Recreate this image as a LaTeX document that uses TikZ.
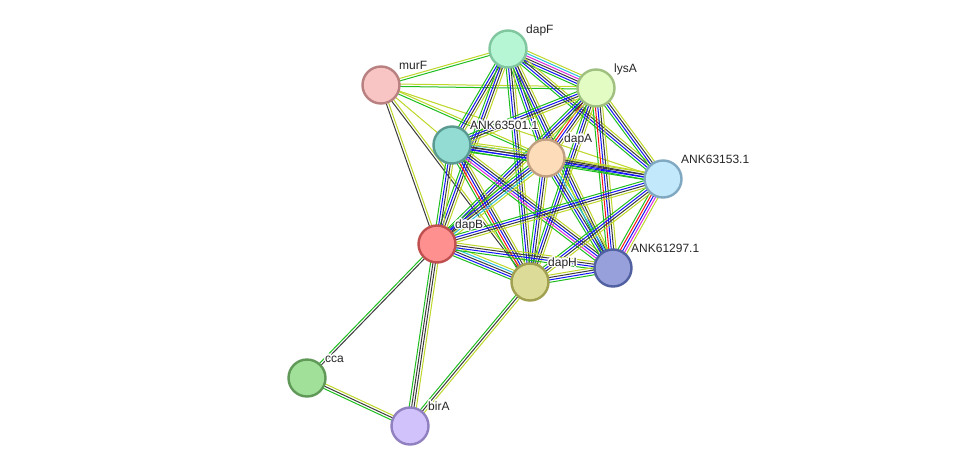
\documentclass[tikz,border=0pt]{standalone}
\usepackage{fontspec}
\setmainfont{Liberation Sans}
\usepackage{contour}
\contourlength{1.3pt}
\usetikzlibrary{calc}
\pgfdeclarelayer{bg}
\pgfsetlayers{bg,main}
\definecolor{eG}{RGB}{30,190,30}
\definecolor{eR}{RGB}{250,20,20}
\definecolor{eB}{RGB}{20,20,250}
\definecolor{eK}{RGB}{60,60,60}
\definecolor{eM}{RGB}{220,40,220}
\definecolor{eC}{RGB}{40,190,220}
\definecolor{eY}{RGB}{190,215,40}
\tikzset{
  prot/.style={circle, minimum size=37pt, inner sep=0pt, line width=2.4pt},
  plabel/.style={anchor=base west, font=\fontsize{12}{14}\selectfont, inner sep=0pt, text=black!85},
}
\newcommand\sedge[3]{%
  \foreach \c [count=\i] in {#3} {\xdef\ncount{\i}}%
  \foreach \c [count=\i] in {#3} {%
    \pgfmathsetmacro\off{(\i-(\ncount+1)/2)*2.4}%
    \draw[\c, line width=1pt] ($(#1.center)!\off pt!90:(#2.center)$) -- ($(#2.center)!\off pt!-90:(#1.center)$);
  }%
}
\newcommand\lbl[1]{\contour{white}{#1}}
\begin{document}
\begin{tikzpicture}[x=1pt,y=-1pt]
\useasboundingbox (0,0) rectangle (975,472);
% nodes
\node[prot, fill={rgb,255:red,182;green,246;blue,212}, draw={rgb,255:red,128;green,198;blue,158}] (dapF) at (508,49) {};
\node[prot, fill={rgb,255:red,248;green,196;blue,196}, draw={rgb,255:red,184;green,128;blue,128}] (murF) at (381,85) {};
\node[prot, fill={rgb,255:red,226;green,252;blue,196}, draw={rgb,255:red,160;green,192;blue,128}] (lysA) at (596,88) {};
\node[prot, fill={rgb,255:red,146;green,220;blue,212}, draw={rgb,255:red,90;green,154;blue,144}] (A501) at (452,145) {};
\node[prot, fill={rgb,255:red,253;green,220;blue,186}, draw={rgb,255:red,192;green,160;blue,128}] (dapA) at (546,158) {};
\node[prot, fill={rgb,255:red,194;green,232;blue,252}, draw={rgb,255:red,128;green,168;blue,192}] (A153) at (663,179) {};
\node[prot, fill={rgb,255:red,255;green,144;blue,144}, draw={rgb,255:red,192;green,80;blue,80}] (dapB) at (437,244) {};
\node[prot, fill={rgb,255:red,220;green,220;blue,152}, draw={rgb,255:red,160;green,160;blue,80}] (dapH) at (530,282) {};
\node[prot, fill={rgb,255:red,152;green,160;blue,220}, draw={rgb,255:red,80;green,96;blue,160}] (A297) at (613,268) {};
\node[prot, fill={rgb,255:red,160;green,224;blue,152}, draw={rgb,255:red,96;green,152;blue,88}] (cca) at (307,378) {};
\node[prot, fill={rgb,255:red,210;green,194;blue,252}, draw={rgb,255:red,144;green,128;blue,192}] (birA) at (410,426) {};
% labels
\node[plabel] (l-dapF) at (526,33) {\lbl{dapF}};
\node[plabel] (l-murF) at (399,69) {\lbl{murF}};
\node[plabel] (l-lysA) at (614,72) {\lbl{lysA}};
\node[plabel] (l-A501) at (470,129) {\lbl{ANK63501.1}};
\node[plabel] (l-dapA) at (564,142) {\lbl{dapA}};
\node[plabel] (l-A153) at (681,163) {\lbl{ANK63153.1}};
\node[plabel] (l-dapB) at (455,228) {\lbl{dapB}};
\node[plabel] (l-dapH) at (548,266) {\lbl{dapH}};
\node[plabel] (l-A297) at (631,252) {\lbl{ANK61297.1}};
\node[plabel] (l-cca) at (325,362) {\lbl{cca}};
\node[plabel] (l-birA) at (428,410) {\lbl{birA}};
% edges
\begin{pgfonlayer}{bg}
\fill[white] (0,0) rectangle (975,472);
\sedge{murF}{dapF}{eG,eY}
\sedge{murF}{lysA}{eG,eY}
\sedge{murF}{dapA}{eG,eY}
\sedge{murF}{A501}{eY}
\sedge{murF}{A153}{eY}
\sedge{murF}{dapB}{eK,eY}
\sedge{murF}{dapH}{eK,eY}
\sedge{dapF}{lysA}{eG,eB,eK,eM,eC,eY}
\sedge{dapF}{A501}{eG,eB,eK,eY}
\sedge{dapF}{dapA}{eG,eB,eK,eY}
\sedge{dapF}{dapB}{eG,eB,eK,eY}
\sedge{dapF}{dapH}{eG,eB,eK,eY}
\sedge{dapF}{A297}{eG,eB,eK,eY}
\sedge{dapF}{A153}{eG,eB,eK,eY}
\sedge{lysA}{A501}{eG,eB,eK,eY}
\sedge{lysA}{dapA}{eG,eR,eB,eK,eY}
\sedge{lysA}{A153}{eG,eB,eK,eY}
\sedge{lysA}{A297}{eG,eR,eB,eK,eY}
\sedge{lysA}{dapH}{eG,eB,eK,eY}
\sedge{lysA}{dapB}{eG,eB,eK,eY}
\sedge{A501}{dapA}{eG,eB,eK,eC,eY}
\sedge{A501}{A153}{eG,eB,eK,eY}
\sedge{A501}{dapB}{eG,eB,eK,eY}
\sedge{A501}{dapH}{eG,eR,eB,eK,eY}
\sedge{A501}{A297}{eG,eM,eB,eK,eY}
\sedge{dapA}{A153}{eG,eB,eK,eY}
\sedge{dapA}{dapB}{eG,eB,eK,eC,eY}
\sedge{dapA}{dapH}{eG,eB,eK,eY}
\sedge{dapA}{A297}{eG,eB,eK,eC,eY}
\sedge{A153}{A297}{eG,eR,eB,eM,eY}
\sedge{A153}{dapH}{eG,eB,eK,eY}
\sedge{A153}{dapB}{eG,eB,eK,eY}
\sedge{dapB}{dapH}{eG,eB,eK,eC,eY}
\sedge{dapB}{A297}{eG,eB,eK,eY}
\sedge{dapH}{A297}{eG,eB,eK,eY}
\sedge{dapB}{cca}{eG,eK}
\sedge{dapB}{birA}{eG,eK,eK,eY}
\sedge{cca}{birA}{eG,eK,eY}
\sedge{dapH}{birA}{eG,eK,eY}
\end{pgfonlayer}
\end{tikzpicture}
\end{document}
